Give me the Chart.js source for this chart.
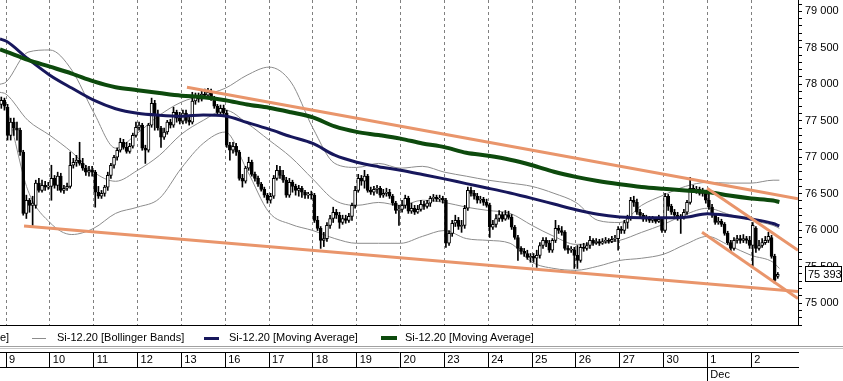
<!DOCTYPE html>
<html><head><meta charset="utf-8">
<script src="https://cdn.jsdelivr.net/npm/chart.js@4/dist/chart.umd.min.js"></script>
<style>
html,body{margin:0;padding:0;background:#fff;}
#wrap{position:relative;width:843px;height:381px;overflow:hidden;font-family:"Liberation Sans",Arial,sans-serif;font-size:11px;color:#000;}
#c{position:absolute;left:0;top:0;}
.lt{position:absolute;top:331px;white-space:nowrap;line-height:13px;}
.sw{position:absolute;}
.hl{position:absolute;left:0;width:843px;height:1px;background:#a0a0a0;}
</style></head>
<body><div id="wrap"><canvas id="c" width="843" height="381"></canvas><div id="legend"></div>
<div class="hl" style="top:346px"></div><div class="hl" style="top:348px;background:#c8c8c8"></div></div>
<script>
// ---- axis labels ----
const dayLabels = ['9','10','11','12','13','16','17','18','19','20','23','24','25','26','27','30','1','2'];
const dayStarts = [0,14,28,42,56,70,84,98,112,126,140,154,168,182,196,210,224,238];
const monthLabels = ['Dec'];
const monthStarts = [224];
const priceTicks = [75000,75500,76000,76500,77000,77500,78000,78500,79000];
const lastPrice = 75393;

// ---- hourly candles (2 bars of the previous session, then 14 per day) ----
const opens = [
 77725,77780,
 77685,77300,77480,77400,77370,77070,76230,76410,76340,76340,76645,76545,76615,76590,
 76600,76710,76615,76740,76545,76575,76600,76890,76930,76960,76915,76850,76795,76820,
 76795,76520,76465,76505,76590,76750,76890,77000,77095,77205,77135,77080,77150,77300,
 77410,77440,77125,77095,77440,77740,77575,77400,77275,77345,77480,77440,77615,77535,
 77495,77605,77505,77480,77770,77825,77795,77865,77850,77890,77810,77700,77615,77670,
 77605,77165,77095,77150,77070,76710,76670,76850,76930,76765,76710,76630,76560,76480,
 76410,76465,76710,76820,76750,76685,76480,76655,76600,76545,76575,76520,76480,76490,
 76480,76135,76025,75860,75885,76065,76160,76245,76205,76105,76160,76135,76190,76340,
 76545,76710,76670,76740,76545,76520,76560,76575,76480,76505,76520,76465,76370,76270,
 76285,76340,76435,76260,76300,76245,76285,76355,76325,76370,76435,76450,76425,76435,
 76410,75820,75955,76095,76135,76050,76065,76300,76545,76505,76465,76410,76425,76380,
 76340,76040,76080,76160,76215,76150,76215,76175,76040,75900,75750,75710,75680,75625,
 75640,75615,75655,75790,75860,75820,75725,75860,76025,75995,75970,75750,75725,75735,
 75655,75585,75765,75750,75790,75860,75830,75845,75820,75845,75860,75845,75875,75885,
 76010,75995,76105,76160,76410,76380,76245,76205,76150,76160,76135,76150,76120,76150,
 75995,76465,76325,76245,76205,76160,76175,76245,76380,76575,76545,76560,76505,76520,
 76410,76315,76205,76105,76120,76080,75955,75830,75750,75860,75885,75860,75885,75860,
 75790,76025,75750,75790,75830,75860,75900,75640,75365];
const highs = [
 77825,77810,
 77725,77535,77535,77480,77400,77095,76480,76435,76465,76685,76710,76685,76670,76655,
 76890,76750,76795,76780,76615,76645,77070,76985,77025,77205,76985,76890,76875,76875,
 76820,76600,76545,76615,76795,76915,77025,77125,77260,77245,77205,77190,77330,77480,
 77480,77465,77165,77465,77810,77780,77645,77425,77400,77505,77520,77685,77645,77615,
 77645,77645,77575,77890,77880,77880,77920,77935,77945,77935,77835,77725,77715,77715,
 77645,77205,77205,77190,77095,76765,76875,77000,76960,76795,76740,76655,76590,76505,
 76505,76750,76890,76875,76820,76725,76710,76685,76630,76615,76600,76545,76520,76535,
 76505,76190,76050,75970,76105,76205,76315,76285,76245,76205,76205,76230,76370,76600,
 76765,76750,76820,76765,76590,76600,76615,76600,76560,76575,76560,76490,76395,76340,
 76410,76480,76465,76370,76340,76340,76410,76395,76410,76465,76490,76480,76480,76465,
 76435,75995,76135,76205,76175,76135,76340,76590,76590,76545,76505,76465,76450,76425,
 76370,76135,76215,76270,76245,76270,76260,76215,76065,75930,75775,75750,75725,75680,
 75680,75725,75830,75900,75900,75860,75885,76135,76065,76050,75995,75790,75775,75765,
 75790,75805,75820,75830,75915,75885,75885,75875,75885,75900,75885,75915,75930,76050,
 76050,76135,76205,76450,76465,76425,76285,76230,76205,76190,76190,76175,76205,76175,
 76505,76490,76355,76285,76245,76215,76285,76410,76725,76615,76600,76590,76575,76545,
 76520,76355,76230,76175,76150,76105,75985,75860,75900,75930,75930,75940,75915,75915,
 76105,76050,75860,75885,75915,75970,75930,75670,75420];
const lows = [
 77670,77645,
 77235,77235,77300,77235,77025,76205,76160,76245,76065,76300,76520,76520,76545,76560,
 76410,76575,76545,76520,76505,76545,76575,76850,76875,76890,76820,76750,76740,76740,
 76315,76435,76435,76465,76545,76710,76850,76960,77070,77110,77055,77055,77125,77275,
 77370,77095,76915,77070,77410,77370,77370,77135,77245,77315,77400,77410,77480,77455,
 77455,77465,77440,77455,77725,77755,77770,77810,77825,77780,77670,77590,77590,77560,
 77135,76960,77055,77025,76685,76590,76645,76820,76740,76670,76600,76535,76450,76370,
 76370,76435,76685,76710,76655,76450,76450,76520,76480,76465,76450,76435,76435,76425,
 76105,75995,75750,75775,75845,76025,76105,76160,76025,76080,76095,76105,76135,76300,
 76520,76615,76575,76520,76490,76480,76505,76450,76450,76465,76435,76340,76230,76065,
 76245,76300,76230,76230,76215,76230,76260,76285,76300,76325,76395,76395,76395,76370,
 75765,75790,75915,76050,76010,75970,76025,76270,76465,76425,76370,76370,76340,76315,
 75900,76010,76040,76120,76120,76135,76150,76010,75875,75585,75670,75640,75600,75560,
 75560,75490,75615,75750,75775,75695,75695,75830,75955,75930,75725,75680,75695,75475,
 75475,75560,75710,75725,75750,75790,75805,75790,75805,75820,75820,75830,75845,75725,
 75955,75955,76025,76135,76325,76215,76160,76120,76120,76105,76105,76095,76105,75970,
 75970,76270,76215,76160,76135,75955,76150,76215,76355,76520,76505,76480,76465,76370,
 76285,76175,76080,76080,76050,75930,75805,75695,75725,75820,75820,75830,75820,75750,
 75490,75695,75725,75765,75805,75830,75615,75270,75340];
const closes = [
 77780,77700,
 77300,77480,77400,77370,77070,76230,76410,76340,76370,76645,76545,76615,76590,76600,
 76710,76615,76740,76545,76575,76600,76890,76930,76960,76915,76850,76795,76820,76795,
 76520,76465,76505,76590,76750,76890,77000,77095,77205,77135,77080,77150,77300,77410,
 77440,77125,77095,77440,77740,77575,77400,77275,77345,77480,77440,77615,77535,77495,
 77605,77505,77480,77770,77825,77795,77865,77850,77890,77810,77700,77615,77670,77605,
 77165,77095,77150,77070,76710,76670,76850,76930,76765,76710,76630,76560,76480,76410,
 76465,76710,76820,76750,76685,76480,76655,76600,76545,76575,76520,76480,76490,76480,
 76135,76025,75860,75885,76065,76160,76245,76205,76105,76160,76135,76190,76340,76545,
 76710,76670,76740,76545,76520,76560,76575,76480,76505,76520,76465,76370,76270,76285,
 76340,76435,76260,76300,76245,76285,76355,76325,76370,76435,76450,76425,76435,76410,
 75820,75955,76095,76135,76050,76065,76300,76545,76505,76465,76410,76425,76380,76340,
 76040,76080,76160,76215,76150,76215,76175,76040,75900,75750,75710,75680,75625,75640,
 75615,75655,75790,75860,75820,75725,75860,76025,75995,75970,75750,75725,75735,75655,
 75585,75765,75750,75790,75860,75830,75845,75820,75845,75860,75845,75875,75885,76010,
 75995,76105,76160,76410,76380,76245,76205,76150,76160,76135,76150,76120,76150,75995,
 76465,76325,76245,76205,76160,76175,76245,76380,76575,76545,76560,76505,76520,76410,
 76315,76205,76105,76120,76080,75955,75830,75750,75860,75885,75860,75885,75860,75790,
 76065,75750,75790,75830,75860,75915,75640,75310,75393];

// ---- indicator samples (position in hourly bars from the start of the 9th) ----
const samplePos = [-1.92,0,7,14,21,28,35,42,49,56,63,70,77,84,91,98,105,112,119,126,133,140,147,154,161,168,175,182,189,196,203,210,217,224,231,238,245,247];
const bbUpper = [78000,78030,78440,78470,78195,77615,77125,77330,77575,77755,77850,77945,78125,78235,78030,77400,76915,76860,76915,76850,76875,76795,76740,76685,76645,76600,76505,76380,76135,76105,76340,76480,76600,76655,76645,76645,76685,76685];
const bbMiddle = [77890,77865,77505,77300,77070,76795,76670,76820,77025,77315,77505,77645,77465,77235,77000,76700,76410,76340,76380,76340,76410,76380,76315,76270,76230,76065,75915,75805,75820,75860,75970,76080,76215,76300,76215,76135,76065,76025];
const bbLower = [77780,77670,76545,76105,75940,76025,76230,76315,76435,76850,77190,77345,76820,76245,76080,75995,75885,75820,75820,75820,75915,75995,75885,75860,75820,75560,75475,75450,75505,75585,75615,75670,75805,75915,75790,75655,75560,75475];
const maShort = [78620,78592,78349,78125,77948,77782,77665,77602,77575,77562,77579,77566,77476,77384,77282,77189,77027,76931,76870,76821,76763,76703,76638,76575,76509,76436,76358,76280,76217,76182,76171,76171,76178,76226,76199,76154,76092,76059];
const maLong = [78478,78448,78334,78241,78147,78040,77960,77919,77880,77844,77823,77782,77722,77678,77616,77546,77422,77347,77304,77255,77189,77138,77061,77019,76965,76890,76800,76730,76674,76630,76593,76567,76544,76524,76475,76435,76406,76385];

// ---- drawn trend lines: [startPos, startPrice, endPos, endPrice] ----
const trendUpper = [57.8, 77960, 252.95, 76431];
const trendLower = [5.75, 76056, 252.95, 75160];
const channelUpper = [223.9, 76574, 252.95, 75723];
const channelLower = [222.3, 75970, 252.95, 75063];

const xMin = -1.92, xMax = 252.95, yMin = 74700, yMax = 79155;
const FONT = '"Liberation Sans", Arial, sans-serif';
const fmt = v => String(Math.round(v)).replace(/\B(?=(\d{3})+(?!\d))/g, ' ');

const barPos = opens.map((_, i) => i - 1.5);
const pts = (xs, ys) => xs.map((x, i) => ({x, y: ys[i]}));
const seg = a => [{x: a[0], y: a[1]}, {x: a[2], y: a[3]}];

const ORANGE = '#e9956b', NAVY = '#17175c', GREEN = '#0d4a0d', BAND = '#8c8c8c';
const lineDs = (label, data, color, width, order) => ({type:'line', label, data, borderColor: color, borderWidth: width,
  pointRadius: 0, fill: false, cubicInterpolationMode: 'monotone', order});

const datasets = [
  lineDs('Si-12.20 [Bollinger Bands]', pts(samplePos, bbUpper), BAND, 1, 5),
  lineDs('', pts(samplePos, bbMiddle), BAND, 1, 5),
  lineDs('', pts(samplePos, bbLower), BAND, 1, 5),
  {type:'bar', label:'', data: barPos.map((x, i) => ({x, y: [lows[i], highs[i]]})),
   backgroundColor:'#000', barThickness: 1, grouped: false, order: 4},
  {type:'bar', label:'', data: barPos.map((x, i) => ({x, y: [opens[i], closes[i]]})),
   backgroundColor: closes.map((c, i) => c >= opens[i] ? '#fff' : '#000'),
   borderColor:'#000', borderWidth: 1, borderSkipped: false, barThickness: 3, minBarLength: 1, grouped: false, order: 3},
  lineDs('Si-12.20 [Moving Average]', pts(samplePos, maShort), NAVY, 3, 2),
  lineDs('Si-12.20 [Moving Average]', pts(samplePos, maLong), GREEN, 4, 1),
  lineDs('', seg(trendUpper), ORANGE, 3, 0),
  lineDs('', seg(trendLower), ORANGE, 3, 0),
  lineDs('', seg(channelUpper), ORANGE, 3, 0),
  lineDs('', seg(channelLower), ORANGE, 3, 0)
];

const zeroPad = s => { s.paddingLeft = 0; s.paddingRight = 0; s.paddingTop = 0; s.paddingBottom = 0; };
const setTicks = vals => s => { s.ticks = vals.map(v => ({value: v})); };

const lastPriceBox = {
  id: 'lastPriceBox',
  afterDraw(chart) {
    const ctx = chart.ctx, y = chart.scales.y.getPixelForValue(lastPrice);
    const x = chart.chartArea.right + 7;
    const top = Math.round(y - 8);
    ctx.save();
    ctx.fillStyle = '#fff'; ctx.fillRect(x, top, 37, 16);
    ctx.strokeStyle = '#000'; ctx.lineWidth = 1; ctx.strokeRect(x + 0.5, top + 0.5, 36, 15);
    ctx.fillStyle = '#000'; ctx.font = '11px ' + FONT; ctx.textBaseline = 'middle'; ctx.textAlign = 'left';
    ctx.fillText(fmt(lastPrice), x + 3, top + 8.5);
    ctx.restore();
  }
};

const chart = new Chart(document.getElementById('c'), {
  type: 'bar',
  data: {datasets},
  options: {
    responsive: false, animation: false, events: [],
    layout: {padding: 0},
    plugins: {legend: {display: false}, tooltip: {enabled: false}},
    scales: {
      x: {type:'linear', position:'bottom', min:xMin, max:xMax, offset:false, weight:0,
        afterBuildTicks: setTicks(dayStarts),
        ticks: {display:false},
        grid: {color:'#808080', lineWidth:1, drawTicks:false, offset:false},
        border: {display:true, color:'#000', width:1, dash:[3,3]},
        afterFit: s => { s.height = 27; zeroPad(s); }
      },
      x2: {type:'linear', position:'bottom', min:xMin, max:xMax, offset:false, weight:1,
        afterBuildTicks: setTicks(dayStarts),
        ticks: {autoSkip:false, maxRotation:0, minRotation:0, align:'start', labelOffset:3, padding:-14,
          color:'#000', font:{size:11, family:FONT}, callback: (v, i) => dayLabels[i]},
        grid: {drawOnChartArea:false, color:'#000', tickColor:'#000', tickLength:15, offset:false},
        border: {display:true, color:'#000', width:1},
        afterFit: s => { s.height = 15; zeroPad(s); }
      },
      x3: {type:'linear', position:'bottom', min:xMin, max:xMax, offset:false, weight:2,
        afterBuildTicks: setTicks(monthStarts),
        ticks: {autoSkip:false, maxRotation:0, minRotation:0, align:'start', labelOffset:3, padding:-13,
          color:'#000', font:{size:11, family:FONT}, callback: (v, i) => monthLabels[i]},
        grid: {drawOnChartArea:false, color:'#000', tickColor:'#000', tickLength:14, offset:false},
        border: {display:true, color:'#000', width:1},
        afterFit: s => { s.height = 14; zeroPad(s); }
      },
      y: {type:'linear', position:'right', min:yMin, max:yMax,
        ticks: {stepSize:100, maxTicksLimit:1000, autoSkip:false, includeBounds:false, padding:3,
          color:'#000', font:{size:11, family:FONT},
          callback: v => priceTicks.includes(v) ? fmt(v) : ''},
        grid: {drawOnChartArea:false, color:'#000', tickColor:'#000', tickLength:4},
        border: {display:true, color:'#000', width:1},
        afterFit: s => { s.width = 45; zeroPad(s); }
      }
    }
  },
  plugins: [lastPriceBox]
});

// ---- legend strip (built from the dataset labels) ----
const leg = document.getElementById('legend');
const legendItems = [
  {text: 'e]', left: 0, sw: null},
  {text: datasets[0].label, left: 57, sw: {l: 32, w: 14, h: 1, c: BAND}},
  {text: datasets[5].label, left: 229, sw: {l: 204, w: 15, h: 3, c: NAVY}},
  {text: datasets[6].label, left: 405, sw: {l: 381, w: 16, h: 4, c: GREEN}}
];
legendItems.forEach(it => {
  if (it.sw) {
    const d = document.createElement('div'); d.className = 'sw';
    d.style.cssText = `left:${it.sw.l}px;top:${338 - Math.floor(it.sw.h / 2)}px;width:${it.sw.w}px;height:${it.sw.h}px;background:${it.sw.c}`;
    leg.appendChild(d);
  }
  const t = document.createElement('div'); t.className = 'lt'; t.style.left = it.left + 'px'; t.textContent = it.text;
  leg.appendChild(t);
});
</script>
</body></html>
